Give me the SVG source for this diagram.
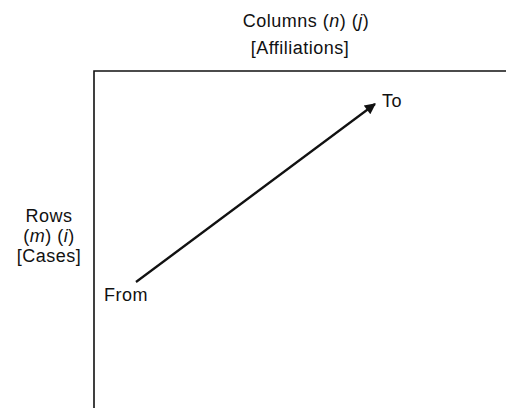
<svg xmlns="http://www.w3.org/2000/svg" width="506" height="408" viewBox="0 0 506 408">
<defs>
<style>
text{font-family:"Liberation Sans",Arial,sans-serif;font-size:18px;letter-spacing:0.5px;fill:#111}
.ln{stroke:#111;stroke-width:1.6;fill:none}
</style>
<marker id="ah" viewBox="0 0 10 10" refX="9" refY="5" markerWidth="8" markerHeight="5" markerUnits="strokeWidth" orient="auto">
<path d="M0,0 L10,5 L0,10 z" fill="#111"/>
</marker>
</defs>
<rect width="506" height="408" fill="#fff"/>
<g id="matrix">
<path class="ln" d="M94,408 L94,71 L506,71"/>
</g>
<g id="columns-label">
<text x="306" y="27" text-anchor="middle">Columns (<tspan font-style="italic">n</tspan>) (<tspan font-style="italic">j</tspan>)</text>
<text x="300" y="54" text-anchor="middle">[Affiliations]</text>
</g>
<g id="rows-label">
<text x="49" y="222" text-anchor="middle">Rows</text>
<text x="49" y="242" text-anchor="middle">(<tspan font-style="italic">m</tspan>) (<tspan font-style="italic">i</tspan>)</text>
<text x="49" y="262" text-anchor="middle">[Cases]</text>
</g>
<g id="from"><text x="104" y="301">From</text></g>
<g id="to"><text x="382" y="107">To</text></g>
<g id="connectors">
<line x1="136" y1="282" x2="375" y2="104" stroke="#111" stroke-width="2.2" marker-end="url(#ah)"/>
</g>
</svg>
